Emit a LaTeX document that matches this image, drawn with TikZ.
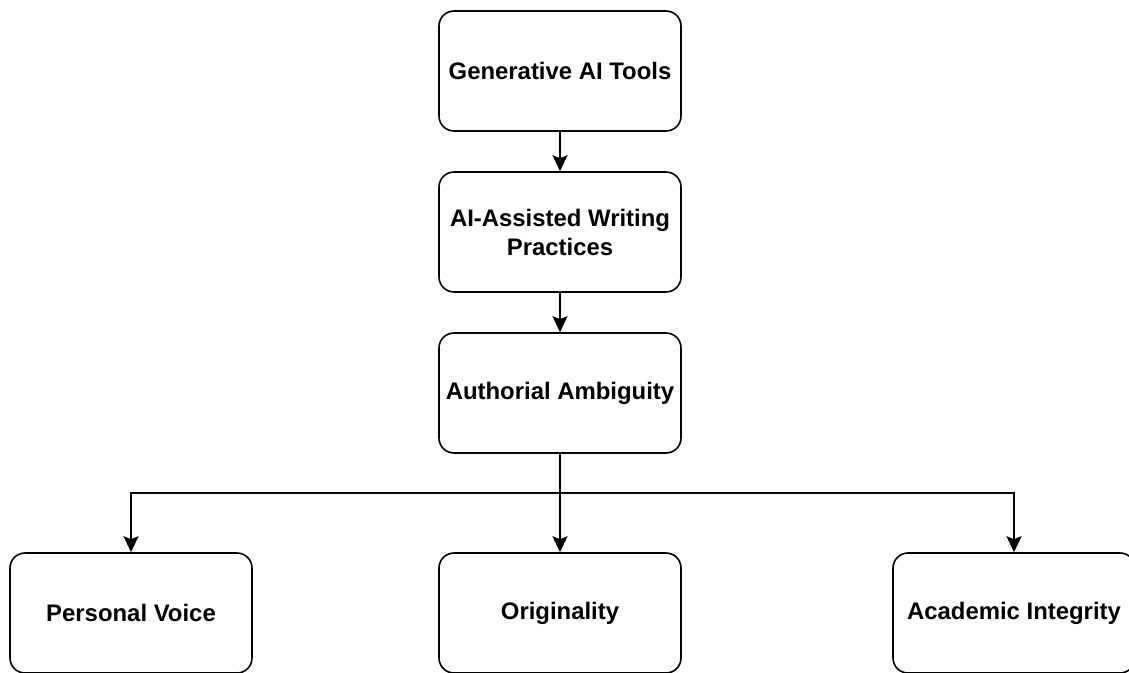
\documentclass[tikz,border=0pt]{standalone}
\usepackage{fontspec}
\setmainfont{Liberation Sans}
\usetikzlibrary{arrows.meta}

\begin{document}
\begin{tikzpicture}[font=\fontsize{13.6}{16.5}\selectfont\bfseries,
   box/.style={draw,line width=0.9pt,rounded corners=0.3cm,minimum width=4.84cm,minimum height=2.4cm,align=center,inner sep=1pt},
   arr/.style={line width=0.9pt,-{Stealth[length=0.32cm,width=0.3cm,inset=0.06cm]}}]
   \useasboundingbox (0,0) rectangle (22.58,13.44);
   \node[box] (gen) at (11.2,12.02) {Generative AI Tools};
   \node[box] (prac) at (11.2,8.8) {AI-Assisted Writing\\Practices};
   \node[box] (amb) at (11.2,5.58) {Authorial Ambiguity};
   \node[box] (voice) at (2.62,1.18) {Personal Voice};
   \node[box] (orig) at (11.2,1.18) {Originality};
   \node[box] (integ) at (20.28,1.18) {Academic Integrity};
   \coordinate (split) at (11.2,3.58);
   \draw[arr] (gen) -- (prac);
   \draw[arr] (prac) -- (amb);
   \draw[arr] (amb) -- (orig);
   \draw[arr] (split) -| (voice.north);
   \draw[arr] (split) -| (integ.north);
  \end{tikzpicture}
\end{document}
